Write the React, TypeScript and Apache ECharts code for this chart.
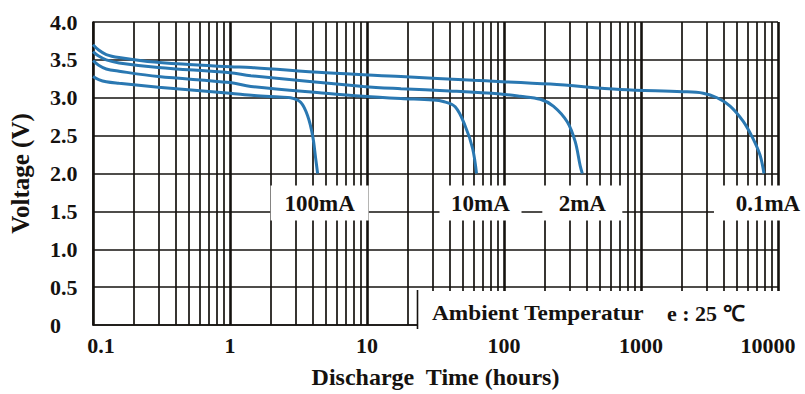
import React, { useEffect, useRef } from 'react';
import * as echarts from 'echarts';

const xTickLabels = ['0.1', '1', '10', '100', '1000', '10000'];
const yTickLabels = ['0', '0.5', '1.0', '1.5', '2.0', '2.5', '3.0', '3.5', '4.0'];

const curveNames = ['0.1mA', '2mA', '10mA', '100mA'];

const curve01mA: [number, number][] = [
  [0.1, 3.7], [0.11, 3.63], [0.125, 3.57], [0.155, 3.53], [0.25, 3.48], [0.5, 3.44],
  [1, 3.41], [1.42, 3.4], [5, 3.33], [17.7, 3.28], [60, 3.23], [218, 3.18], [705, 3.11],
  [2000, 3.08], [2840, 3.06], [3590, 3.0], [4470, 2.89], [5560, 2.69], [6570, 2.46],
  [7400, 2.24], [7900, 2.0],
];
const curve2mA: [number, number][] = [
  [0.1, 3.61], [0.11, 3.55], [0.125, 3.5], [0.155, 3.46], [0.3, 3.4], [1, 3.33],
  [1.42, 3.29], [9.4, 3.15], [17.7, 3.12], [40, 3.09], [94, 3.05], [131, 3.02],
  [184, 2.98], [229, 2.89], [290, 2.68], [331, 2.42], [360, 2.1], [373, 2.0],
];
const curve10mA: [number, number][] = [
  [0.1, 3.49], [0.11, 3.43], [0.125, 3.38], [0.155, 3.35], [0.3, 3.28], [1, 3.2],
  [1.42, 3.15], [5, 3.06], [9.4, 3.02], [17.7, 2.99], [30, 2.97], [36, 2.95], [44, 2.88],
  [52, 2.63], [59, 2.33], [63, 2.0],
];
const curve100mA: [number, number][] = [
  [0.1, 3.28], [0.11, 3.24], [0.125, 3.21], [0.155, 3.19], [0.3, 3.14], [1, 3.06],
  [1.5, 3.03], [2.3, 3.01], [2.77, 3.0], [3.28, 2.94], [3.69, 2.76], [4.01, 2.5],
  [4.22, 2.2], [4.36, 2.0],
];

const curves = [curve01mA, curve2mA, curve10mA, curve100mA];

const FONT = "'Liberation Serif', 'Times New Roman', serif";
const INK = '#15120f';
const BLUE = '#2a78b2';

// label box sizes / offsets (layout only)
const boxSizes: [number, number][] = [[108, 35], [80, 35], [82, 35], [98, 35]];
const boxOffsets: [number, number][] = [[4, 29.5], [0, 29.5], [4, 29.5], [2, 29.5]];

export default function App() {
  const ref = useRef<HTMLDivElement>(null);

  useEffect(() => {
    if (!ref.current) return;
    const chart = echarts.init(ref.current, undefined, { renderer: 'svg' });
    const labelText = {
      fontFamily: FONT,
      fontWeight: 'bold' as const,
      fontSize: 22,
      color: INK,
    };
    const curveLabelText = { ...labelText, fontSize: 23 };
    const lastIdx = xTickLabels.length - 1;
    chart.setOption({
      animation: false,
      backgroundColor: '#fff',
      grid: { left: 92, right: 27, top: 22, bottom: 66, containLabel: false },
      xAxis: {
        type: 'log',
        logBase: 10,
        min: 0.1,
        max: 10000,
        splitNumber: 5,
        name: 'Discharge  Time (hours)',
        nameLocation: 'middle',
        nameGap: 40,
        nameTextStyle: { ...labelText, fontSize: 24 },
        axisLine: { show: true, lineStyle: { color: INK, width: 1.6 } },
        axisTick: { show: false },
        minorTick: { show: false, splitNumber: 9 },
        splitLine: { show: true, lineStyle: { color: INK, width: 2.6 } },
        minorSplitLine: { show: true, lineStyle: { color: INK, width: 1.7 } },
        axisLabel: {
          ...labelText,
          margin: 9,
          formatter: (_v: number, i: number) => {
            const t = xTickLabels[i] ?? '';
            if (i === 0) return `{first|${t}}`;
            if (i === lastIdx) return `{last|${t}}`;
            return `{n|${t}}`;
          },
          rich: {
            first: { ...labelText, padding: [0, 0, 0, 16] },
            last: { ...labelText, padding: [0, 20, 0, 0] },
            n: { ...labelText },
          },
        },
      },
      yAxis: {
        type: 'value',
        min: 0,
        max: 4,
        interval: 0.5,
        name: 'Voltage (V)',
        nameLocation: 'middle',
        nameRotate: 90,
        nameGap: 60,
        nameTextStyle: { ...labelText, fontSize: 25 },
        axisLine: { show: true, lineStyle: { color: INK, width: 1.6 } },
        axisTick: { show: false },
        splitLine: { show: true, lineStyle: { color: INK, width: 1.7 } },
        axisLabel: {
          ...labelText,
          align: 'left',
          margin: 43,
          formatter: (v: number) => yTickLabels[Math.round(v / 0.5)] ?? '',
        },
      },
      graphic: [
        {
          type: 'rect',
          z: 50,
          silent: true,
          shape: { x: 418, y: 291, width: 400, height: 46 },
          style: { fill: '#fff' },
        },
        {
          type: 'line',
          z: 51,
          silent: true,
          shape: { x1: 417.5, y1: 290, x2: 417.5, y2: 329 },
          style: { stroke: INK, lineWidth: 1.6 },
        },
        {
          type: 'text',
          z: 52,
          x: 432,
          y: 313,
          scaleX: 1.06,
          silent: true,
          style: {
            text: 'Ambient Temperatur',
            fontFamily: FONT,
            fontWeight: 'bold',
            fontSize: 22,
            fill: INK,
            align: 'left',
            verticalAlign: 'middle',
          },
        },
        {
          type: 'text',
          z: 52,
          x: 667,
          y: 313,
          scaleX: 1.0,
          silent: true,
          style: {
            text: 'e : 25 ℃',
            fontFamily: FONT,
            fontWeight: 'bold',
            fontSize: 22,
            fill: INK,
            align: 'left',
            verticalAlign: 'middle',
          },
        },
      ],
      series: curves.map((data, k) => ({
        name: curveNames[k],
        type: 'line',
        data,
        smooth: 0.35,
        showSymbol: false,
        symbol: 'none',
        lineStyle: { color: BLUE, width: 3 },
        itemStyle: { color: BLUE },
        emphasis: { disabled: true },
        markPoint: {
          silent: true,
          symbol: 'rect',
          symbolSize: boxSizes[k],
          symbolOffset: boxOffsets[k],
          itemStyle: { color: '#fff', borderWidth: 0 },
          label: {
            show: true,
            position: 'inside',
            formatter: curveNames[k],
            ...curveLabelText,
          },
          emphasis: { disabled: true },
          data: [{ coord: data[data.length - 1] }],
        },
      })),
    });
    return () => chart.dispose();
  }, []);

  return (
    <div
      ref={ref}
      style={{ position: 'fixed', left: 0, top: 0, width: 805, height: 394, background: '#fff' }}
    />
  );
}
